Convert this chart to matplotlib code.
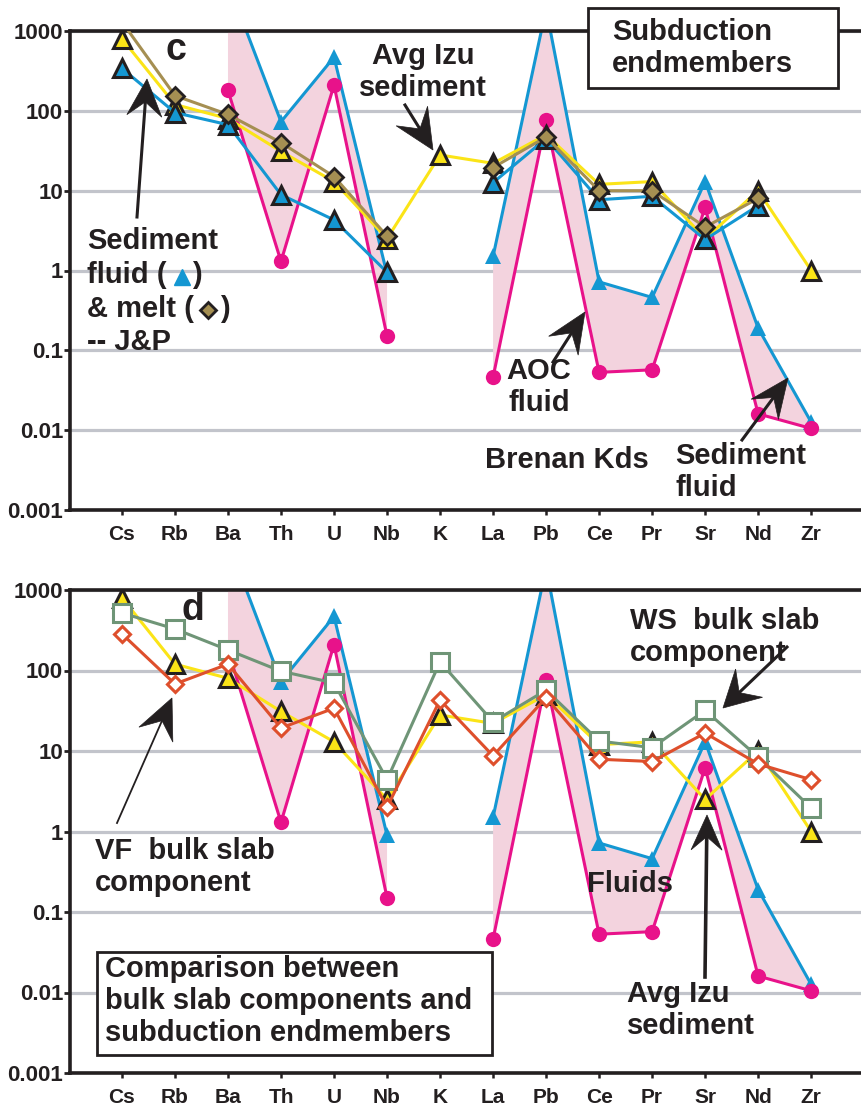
import numpy as np
import matplotlib.pyplot as plt
from matplotlib.patches import Polygon, Rectangle
from matplotlib.lines import Line2D

plt.rcParams['font.family'] = ['Liberation Sans', 'DejaVu Sans']

nan = np.nan
elements = ['Cs', 'Rb', 'Ba', 'Th', 'U', 'Nb', 'K', 'La', 'Pb', 'Ce', 'Pr', 'Sr', 'Nd', 'Zr']

# Avg Izu sediment
izu_sed = [800, 120, 80, 31, 13, 2.5, 28, 22, 50, 12, 13, 2.5, 10, 1.0]
# J&P sediment fluid and melt
jp_fluid = [340, 95, 67, 8.9, 4.3, 0.95, nan, 12.6, 45, 7.7, 8.5, 2.45, 6.5, nan]
jp_melt = [1300, 155, 90, 40, 15, 2.7, nan, 19.5, 47, 10, 10, 3.5, 8, nan]
# Brenan Kds: sediment fluid and AOC fluid
brenan_sed = [nan, nan, 4000, 73, 470, 0.9, nan, 1.5, 1900, 0.72, 0.46, 13, 0.19, 0.0126]
brenan_aoc = [nan, nan, 180, 1.3, 210, 0.15, nan, 0.046, 77, 0.053, 0.057, 6.2, 0.016, 0.0105]
# bulk slab components
ws_bulk = [518, 328, 180, 98, 70, 4.4, 128, 23, 57, 13.3, 11, 32, 8.4, 1.96]
vf_bulk = [285, 68, 120, 19.3, 34, 2.0, 43, 8.7, 46, 7.9, 7.4, 16.7, 6.9, 4.4]

yticks = [1e-3, 1e-2, 1e-1, 1, 10, 100, 1000]
ylabels = ['0.001', '0.01', '0.1', '1', '10', '100', '1000']

yellow = '#fbe417'
blue = '#1497d2'
pink = '#e8128a'
pink_fill = '#f3d3de'
brown = '#a58f52'
green = '#6f9577'
orange = '#de4f2c'
grid_col = '#c2c4cb'
ink = '#231f20'

W, H = 861, 1107
fig = plt.figure(figsize=(W / 100, H / 100), dpi=100)


def fig_xy(x, y):
    return x / W, 1 - y / H


def label(txt, x, y, size=21, ha='left', va='center'):
    fig.text(*fig_xy(x, y), txt, fontsize=size, fontweight='bold', ha=ha, va=va,
             color=ink, linespacing=1.18, zorder=7)


def arrow(x0, y0, x1, y1, length=38, width=35, lw=2.2):
    # swept-back arrow head with a straight tail
    d = np.hypot(x1 - x0, y1 - y0)
    ux, uy = (x1 - x0) / d, (y1 - y0) / d
    nx, ny = -uy, ux
    bx, by = x1 - ux * length, y1 - uy * length
    cx, cy = x1 - ux * length * 0.62, y1 - uy * length * 0.62
    pts = [(x1, y1), (bx + nx * width / 2, by + ny * width / 2), (cx, cy),
           (bx - nx * width / 2, by - ny * width / 2)]
    fig.add_artist(Polygon([fig_xy(*p) for p in pts], closed=True, transform=fig.transFigure,
                           fc=ink, ec=ink, lw=0.5, zorder=6))
    fig.add_artist(Line2D(*zip(fig_xy(x0, y0), fig_xy(cx, cy)), transform=fig.transFigure,
                          color=ink, lw=lw, zorder=6))


def box(x0, y0, x1, y1):
    fig.add_artist(Rectangle(fig_xy(x0, y1), (x1 - x0) / W, (y1 - y0) / H,
                             transform=fig.transFigure, fc='white', ec=ink, lw=2, zorder=6))


def setup(ax):
    ax.set_yscale('log')
    ax.set_ylim(1e-3, 1e3)
    ax.set_xlim(-0.98, 13.94)
    ax.set_yticks(yticks)
    ax.set_yticklabels(ylabels, fontsize=16, fontweight='bold', color=ink)
    ax.minorticks_off()
    ax.set_xticks(range(len(elements)))
    ax.set_xticklabels(elements, fontsize=15, fontweight='bold', color=ink)
    ax.grid(axis='y', color=grid_col, lw=2.3)
    ax.set_axisbelow(True)
    for side in ['left', 'top', 'bottom']:
        ax.spines[side].set_linewidth(2.6)
        ax.spines[side].set_color(ink)
    ax.spines['right'].set_visible(False)
    ax.tick_params(axis='y', length=4, width=2, pad=1, color=ink)
    ax.tick_params(axis='x', length=3.5, width=1.8, pad=7, color=ink)


def brenan(ax, x):
    ax.fill_between(x, brenan_sed, brenan_aoc, color=pink_fill, lw=0, zorder=1)
    ax.plot(x, brenan_sed, color=blue, lw=2.2, marker='^', ms=11.5, mew=0, zorder=2)
    ax.plot(x, brenan_aoc, color=pink, lw=2.2, marker='o', ms=11, mew=0, zorder=2.5)


x = np.arange(len(elements))

# ---------------- c: subduction endmembers ----------------
ax1 = fig.add_axes([70 / W, 1 - 510 / H, (W - 70) / W, 479 / H])
setup(ax1)
brenan(ax1, x)
ax1.plot(x, izu_sed, color=yellow, lw=2.2, marker='^', ms=12.5, mfc=yellow, mec=ink, mew=2.2, zorder=3)
ax1.plot(x, jp_fluid, color=blue, lw=2.2, marker='^', ms=12.5, mfc=blue, mec=ink, mew=2.2, zorder=4)
ax1.plot(x, jp_melt, color=brown, lw=2.2, marker='D', ms=9, mfc=brown, mec=ink, mew=2, zorder=5)

label('c', 176, 50, size=27, ha='center')
label('Avg Izu\nsediment', 423, 72, ha='center')
arrow(405, 105, 433, 150, length=40, width=37)
box(588, 8, 838, 88)
label('Subduction\nendmembers', 612, 48)
label('Sediment', 87, 241)
label('fluid (', 87, 275)
label(')', 192, 275)
label('& melt (', 87, 309)
label(')', 220, 309)
label('-- J&P', 87, 342)
fig.add_artist(Line2D([182 / W], [1 - 277 / H], marker='^', ms=11, mfc=blue, mec=blue,
                      transform=fig.transFigure, zorder=7))
fig.add_artist(Line2D([208 / W], [1 - 310 / H], marker='D', ms=8.5, mfc=brown, mec=ink, mew=2,
                      transform=fig.transFigure, zorder=7))
arrow(137, 217, 147, 79, length=37, width=35)
label('AOC\nfluid', 539, 387, ha='center')
arrow(553, 362, 585, 312, length=40, width=35)
label('Brenan Kds', 567, 460, ha='center')
label('Sediment\nfluid', 675, 472)
arrow(742, 440, 788, 378, length=39, width=34)

# ---------------- d: bulk slab components ----------------
ax2 = fig.add_axes([70 / W, 1 - 1073 / H, (W - 70) / W, 483 / H])
setup(ax2)
brenan(ax2, x)
ax2.plot(x, izu_sed, color=yellow, lw=2.2, marker='^', ms=12.5, mfc=yellow, mec=ink, mew=2.2, zorder=3)
ax2.plot(x, ws_bulk, color=green, lw=2.2, marker='s', ms=13, mfc='white', mec=green, mew=2.2, zorder=4)
ax2.plot(x, vf_bulk, color=orange, lw=2.2, marker='D', ms=8.5, mfc='white', mec=orange, mew=2.2, zorder=5)

label('d', 193, 610, size=27, ha='center')
label('WS  bulk slab\ncomponent', 630, 637)
arrow(787, 647, 723, 708, length=36, width=39)
label('VF  bulk slab\ncomponent', 95, 867)
arrow(117, 823, 172, 698, length=40, width=37, lw=1.3)
label('Fluids', 587, 884)
label('Avg Izu\nsediment', 627, 1010)
arrow(705, 977, 707, 815, length=35, width=31, lw=2.6)
box(97, 952, 492, 1055)
label('Comparison between\nbulk slab components and\nsubduction endmembers', 105, 1001)

fig.savefig('out.png', dpi=100)
